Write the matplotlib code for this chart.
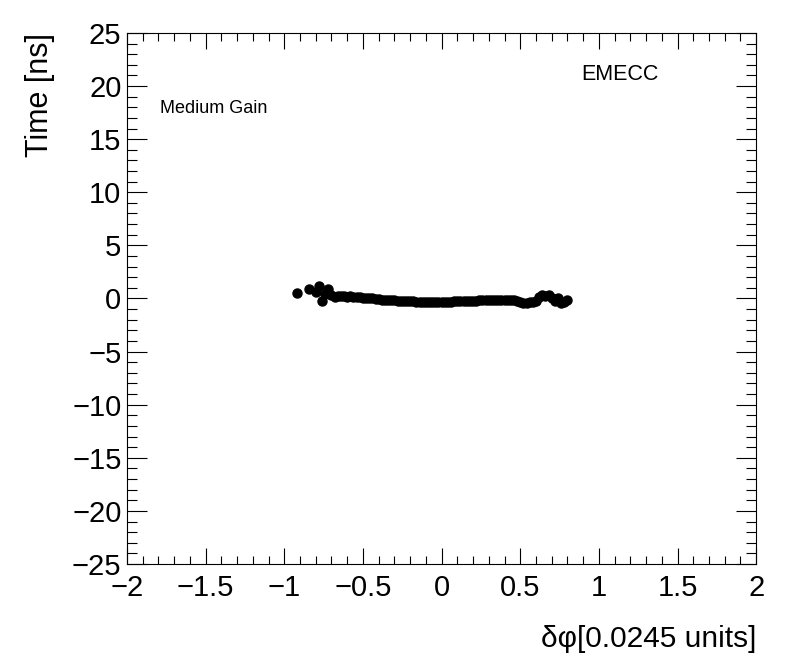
import matplotlib.pyplot as plt
from matplotlib.ticker import MultipleLocator

plt.rcParams['font.family'] = ['Liberation Sans', 'DejaVu Sans']

# timing profile vs delta phi
dphi = [-0.92, -0.84, -0.80, -0.78, -0.76, -0.74, -0.72, -0.70, -0.68, -0.66,
        -0.64, -0.62, -0.60, -0.58, -0.56, -0.54, -0.52, -0.50, -0.48, -0.46,
        -0.44, -0.42, -0.40, -0.38, -0.36, -0.34, -0.32, -0.30, -0.28, -0.26,
        -0.24, -0.22, -0.20, -0.18, -0.16, -0.14, -0.12, -0.10, -0.08, -0.06,
        -0.04, -0.02, 0.00, 0.02, 0.04, 0.06, 0.08, 0.10, 0.12, 0.14,
        0.16, 0.18, 0.20, 0.22, 0.24, 0.26, 0.28, 0.30, 0.32, 0.34,
        0.36, 0.38, 0.40, 0.42, 0.44, 0.46, 0.48, 0.50, 0.52, 0.54,
        0.56, 0.58, 0.60, 0.62, 0.64, 0.66, 0.68, 0.70, 0.72, 0.74,
        0.76, 0.78, 0.80]
time = [0.47, 0.85, 0.60, 1.20, -0.20, 0.40, 0.85, 0.30, 0.15, 0.25,
        0.20, 0.22, 0.18, 0.20, 0.15, 0.12, 0.10, 0.08, 0.05, 0.02,
        0.00, -0.05, -0.08, -0.10, -0.12, -0.15, -0.18, -0.19, -0.20, -0.22,
        -0.24, -0.25, -0.27, -0.28, -0.30, -0.30, -0.31, -0.31, -0.31, -0.31,
        -0.32, -0.31, -0.31, -0.30, -0.30, -0.29, -0.28, -0.27, -0.26, -0.25,
        -0.25, -0.24, -0.22, -0.20, -0.18, -0.17, -0.16, -0.16, -0.15, -0.15,
        -0.16, -0.18, -0.19, -0.15, -0.10, -0.12, -0.20, -0.30, -0.40, -0.42,
        -0.35, -0.30, -0.20, 0.10, 0.35, 0.20, 0.30, 0.00, -0.25, 0.05,
        -0.45, -0.30, -0.15]

fig = plt.figure(figsize=(7.96, 6.72), dpi=100)
ax = fig.add_axes([0.1595, 0.1607, 0.7905, 0.7903])

ax.plot(dphi, time, 'o', color='black', markersize=6.5, linestyle='none')

ax.set_xlim(-2, 2)
ax.set_ylim(-25, 25)
ax.xaxis.set_major_locator(MultipleLocator(0.5))
ax.xaxis.set_minor_locator(MultipleLocator(0.1))
ax.yaxis.set_major_locator(MultipleLocator(5))
ax.yaxis.set_minor_locator(MultipleLocator(1))
ax.set_xticks([-2, -1.5, -1, -0.5, 0, 0.5, 1, 1.5, 2])
ax.set_xticklabels(['\u22122', '\u22121.5', '\u22121', '\u22120.5', '0', '0.5', '1', '1.5', '2'])
ax.set_yticks(range(-25, 30, 5))
ax.set_yticklabels([('\u2212%d' % -v) if v < 0 else str(v) for v in range(-25, 30, 5)])

ax.tick_params(which='both', direction='in', top=True, right=True, width=0.8, labelsize=21)
ax.tick_params(axis='x', which='major', length=11.5, pad=7.5)
ax.tick_params(axis='x', which='minor', length=5.8)
ax.tick_params(axis='y', which='major', length=14.4, pad=4)
ax.tick_params(axis='y', which='minor', length=7.2)
for s in ax.spines.values():
    s.set_linewidth(0.8)

ax.set_xlabel('\u03b4\u03c6[0.0245 units]', fontsize=21.5, loc='right', labelpad=16)
ax.set_ylabel('Time [ns]', fontsize=22, loc='top', labelpad=12)

ax.text(0.052, 0.85, 'Medium Gain', transform=ax.transAxes, fontsize=13)
ax.text(0.722, 0.912, 'EMECC', transform=ax.transAxes, fontsize=15.5)

fig.savefig('out.png', dpi=100)
